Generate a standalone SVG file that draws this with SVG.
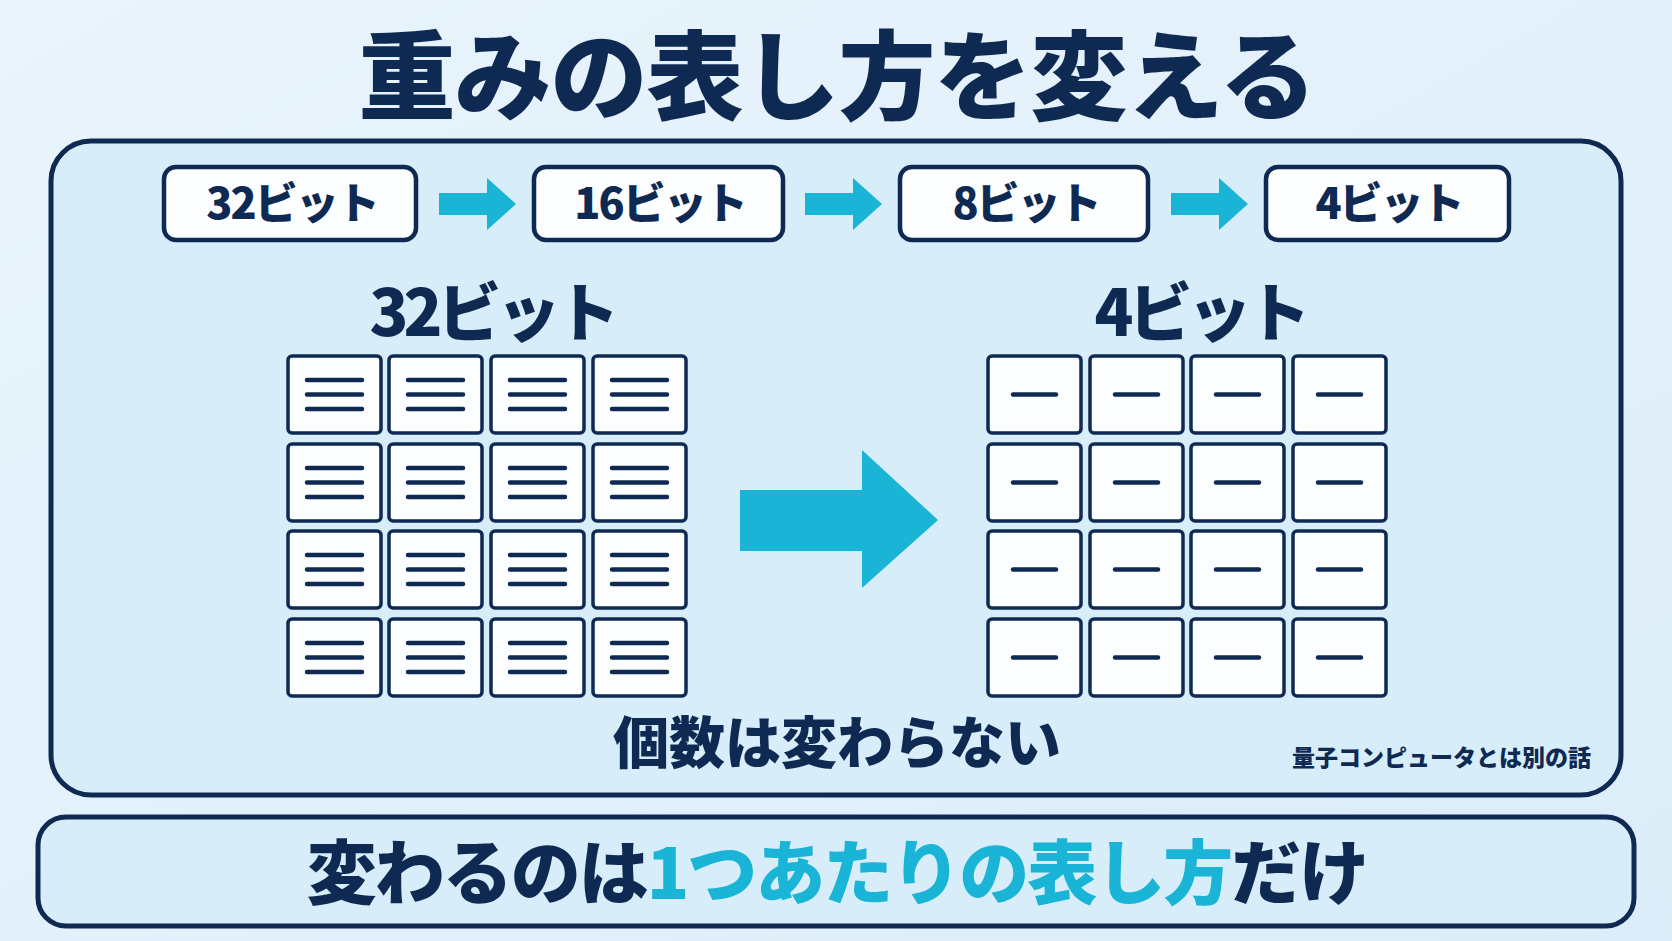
<svg xmlns="http://www.w3.org/2000/svg" width="1672" height="941" viewBox="0 0 1672 941">
<defs>
<linearGradient id="bg" x1="0" y1="0" x2="1" y2="1"><stop offset="0" stop-color="#e9f4fc"/><stop offset="1" stop-color="#dcedf9"/></linearGradient>
<g id="c3"><rect class="cell" width="93" height="77" rx="4"/><path class="ln" d="M19 24h55M19 38.5h55M19 53h55"/></g>
<g id="c1"><rect class="cell" width="93" height="77" rx="4"/><path class="ln" d="M25 38.5h43"/></g>
</defs>
<style>
text{font-family:"Noto Sans CJK JP","Noto Sans",sans-serif;font-weight:900;fill:#0f2a52;text-anchor:middle}
.box{fill:#d8edfa;stroke:#0f2a52;stroke-width:5}
.pill{fill:#fbfdff;stroke:#0f2a52;stroke-width:4.5}
.cell{fill:#fbfdff;stroke:#0f2a52;stroke-width:3.5}
.ln{stroke:#0f2a52;stroke-width:4.5;stroke-linecap:round}
.arr{fill:#1ab4d6}
.hl{fill:#1ab4d6}
</style>
<rect width="1672" height="941" fill="url(#bg)"/>
<g id="title"><text x="837" y="112" font-size="97" letter-spacing="-1">重みの表し方を変える</text></g>
<g id="mainbox"><rect class="box" x="51" y="141" width="1570" height="654" rx="40"/></g>
<g id="bottombox"><rect class="box" x="38" y="817" width="1596" height="109" rx="28"/></g>
<g id="p32"><rect class="pill" x="164" y="167" width="252" height="73" rx="12"/><text x="292" y="219" font-size="43" letter-spacing="-2">32ビット</text></g>
<g id="p16"><rect class="pill" x="534" y="167" width="249" height="73" rx="12"/><text x="660" y="219" font-size="43" letter-spacing="-2">16ビット</text></g>
<g id="p8"><rect class="pill" x="900" y="167" width="248" height="73" rx="12"/><text x="1026" y="219" font-size="43" letter-spacing="-2">8ビット</text></g>
<g id="p4"><rect class="pill" x="1266" y="167" width="243" height="73" rx="12"/><text x="1389" y="219" font-size="43" letter-spacing="-2">4ビット</text></g>
<g id="connectors">
<polygon class="arr" points="439,193 487,193 487,178 516,204 487,230 487,215 439,215"/>
<polygon class="arr" points="805,193 853,193 853,178 882,204 853,230 853,215 805,215"/>
<polygon class="arr" points="1171,193 1219,193 1219,178 1248,204 1219,230 1219,215 1171,215"/>
<polygon class="arr" points="740,490 862,490 862,450 938,520 862,588 862,551 740,551"/>
</g>
<g id="label32"><text x="492" y="336" font-size="64" letter-spacing="-5">32ビット</text></g>
<g id="label4"><text x="1200" y="336" font-size="64" letter-spacing="-5">4ビット</text></g>
<g id="grid32">
<use href="#c3" x="288" y="356"/><use href="#c3" x="389" y="356"/><use href="#c3" x="491" y="356"/><use href="#c3" x="593" y="356"/>
<use href="#c3" x="288" y="444"/><use href="#c3" x="389" y="444"/><use href="#c3" x="491" y="444"/><use href="#c3" x="593" y="444"/>
<use href="#c3" x="288" y="531"/><use href="#c3" x="389" y="531"/><use href="#c3" x="491" y="531"/><use href="#c3" x="593" y="531"/>
<use href="#c3" x="288" y="619"/><use href="#c3" x="389" y="619"/><use href="#c3" x="491" y="619"/><use href="#c3" x="593" y="619"/>
</g>
<g id="grid4">
<use href="#c1" x="988" y="356"/><use href="#c1" x="1090" y="356"/><use href="#c1" x="1191" y="356"/><use href="#c1" x="1293" y="356"/>
<use href="#c1" x="988" y="444"/><use href="#c1" x="1090" y="444"/><use href="#c1" x="1191" y="444"/><use href="#c1" x="1293" y="444"/>
<use href="#c1" x="988" y="531"/><use href="#c1" x="1090" y="531"/><use href="#c1" x="1191" y="531"/><use href="#c1" x="1293" y="531"/>
<use href="#c1" x="988" y="619"/><use href="#c1" x="1090" y="619"/><use href="#c1" x="1191" y="619"/><use href="#c1" x="1293" y="619"/>
</g>
<g id="count"><text x="837" y="763" font-size="56">個数は変わらない</text></g>
<g id="note"><text x="1591" y="766" font-size="23" font-weight="700" style="text-anchor:end">量子コンピュータとは別の話</text></g>
<g id="bottomtext"><text x="837" y="899" font-size="70" letter-spacing="-2">変わるのは<tspan class="hl">1つあたりの表し方</tspan>だけ</text></g>
</svg>
